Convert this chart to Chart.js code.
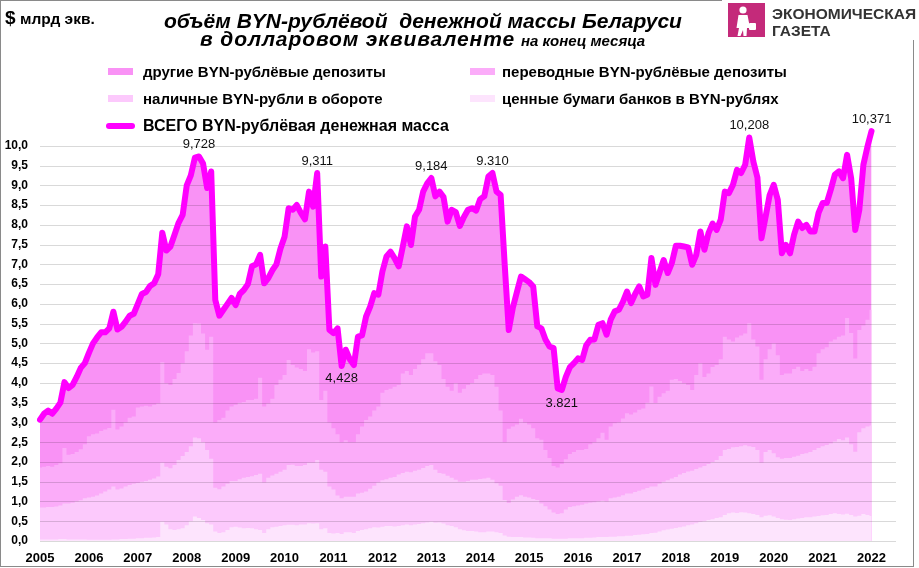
<!DOCTYPE html>
<html>
<head>
<meta charset="utf-8">
<script src="https://cdn.jsdelivr.net/npm/chart.js@4.4.0/dist/chart.umd.min.js"></script>
<style>
  html, body { margin: 0; padding: 0; background: #fff; }
  #wrap { position: relative; width: 919px; height: 568px; overflow: hidden;
          font-family: 'Liberation Sans', Arial, sans-serif; color: #000; }
  #chart { position: absolute; left: 0; top: 0; }
  .frame { position: absolute; left: 0; top: 0; width: 912px; height: 565px;
           border: 1px solid #8a8a8a; pointer-events: none; }
  .unit { position: absolute; left: 5px; top: 7px; font-weight: bold; white-space: nowrap; }
  .unit .d { font-size: 19px; }
  .unit .t { font-size: 15.5px; }
  .t1, .t2 { position: absolute; font-style: italic; font-weight: bold; font-size: 21px;
             line-height: 21px; white-space: pre; }
  .t1 { left: 164px; top: 10px; }
  .t2 { left: 200px; top: 28px; }
  .t2 .big { letter-spacing: 0.9px; }
  .t2 small { font-size: 15px; }
  .logo { position: absolute; left: 722px; top: 0; width: 197px; height: 40px; background: #fff; }
  .logo svg { position: absolute; left: 6px; top: 3px; }
  .logo .name { position: absolute; left: 50px; top: 5px; font-weight: bold; font-size: 15.5px;
                line-height: 17px; color: #333; white-space: nowrap; }
  .lg { position: absolute; font-weight: bold; font-size: 15px; line-height: 15px; white-space: nowrap; }
  .lg.total { font-size: 16px; line-height: 16px; }
  .sw { position: absolute; width: 25px; height: 7px; }
  .swl { position: absolute; width: 29px; height: 6px; border-radius: 3px; }
</style>
</head>
<body>
<div id="wrap">
  <canvas id="chart" width="919" height="568"></canvas>
  <div class="frame"></div>
  <div class="unit"><span class="d">$</span> <span class="t">млрд экв.</span></div>
  <div class="t1">объём BYN-рублёвой  денежной массы Беларуси</div>
  <div class="t2"><span class="big">в долларовом эквиваленте</span> <small>на конец месяца</small></div>
  <div class="logo">
    <svg width="37" height="34" viewBox="0 0 37 34">
      <rect width="37" height="34" fill="#c42a7a"/>
      <circle cx="15" cy="7" r="3.6" fill="#fff"/>
      <path d="M10.5 12 L19.5 12 L22 25 L19 25 L18.5 33 L15.5 33 L15 27 L12.5 33 L9.5 33 L11 25 L8.5 25 Z" fill="#fff"/>
      <rect x="21" y="20" width="7" height="7" rx="1" fill="#fff"/>
    </svg>
    <div class="name">ЭКОНОМИЧЕСКАЯ<br>ГАЗЕТА</div>
  </div>
  <div id="legend"></div>
</div>
<script>
// подписи оси X: годы, точки помесячно (янв 2005 .. янв 2022)
const years = ['2005', '2006', '2007', '2008', '2009', '2010', '2011', '2012', '2013',
  '2014', '2015', '2016', '2017', '2018', '2019', '2020', '2021', '2022'];
const monthNums = ['01', '02', '03', '04', '05', '06', '07', '08', '09', '10', '11', '12'];

const seriesNames = ['другие BYN-рублёвые депозиты', 'переводные BYN-рублёвые депозиты',
  'наличные BYN-рубли в обороте', 'ценные бумаги банков в BYN-рублях',
  'ВСЕГО BYN-рублёвая денежная масса'];

// ВСЕГО, млрд $
const total = [
  3.07, 3.22, 3.3, 3.22, 3.35, 3.5, 4.02, 3.87, 3.95, 4.15,
  4.38, 4.5, 4.76, 5.0, 5.15, 5.28, 5.28, 5.38, 5.8, 5.35,
  5.42, 5.55, 5.7, 5.75, 6.0, 6.25, 6.3, 6.45, 6.52, 6.75,
  7.8, 7.35, 7.45, 7.75, 8.05, 8.25, 9.0, 9.25, 9.7, 9.728,
  9.55, 8.93, 9.35, 6.1, 5.7, 5.85, 6.0, 6.15, 5.97, 6.25,
  6.35, 6.5, 6.95, 7.0, 7.24, 6.52, 6.65, 6.85, 7.0, 7.4,
  7.7, 8.42, 8.38, 8.5, 8.3, 8.14, 8.84, 8.46, 9.311, 6.69,
  7.45, 5.34, 5.26, 5.38, 4.43, 4.84, 4.6, 4.45, 5.17, 5.2,
  5.68, 5.93, 6.27, 6.23, 6.82, 7.2, 7.32, 7.15, 6.95, 7.45,
  7.96, 7.49, 8.21, 8.38, 8.84, 9.05, 9.184, 8.72, 8.84, 8.7,
  8.08, 8.38, 8.32, 7.97, 8.2, 8.38, 8.42, 8.36, 8.65, 8.72,
  9.22, 9.31, 8.84, 8.76, 7.0, 5.34, 5.9, 6.3, 6.69, 6.62,
  6.55, 6.44, 5.43, 5.38, 5.1, 4.92, 4.88, 3.86, 3.821, 4.15,
  4.4, 4.5, 4.62, 4.58, 4.95, 5.09, 5.1, 5.47, 5.51, 5.22,
  5.6, 5.81, 5.85, 6.05, 6.31, 6.02, 6.25, 6.44, 6.19, 6.23,
  7.16, 6.48, 6.8, 7.11, 6.78, 7.03, 7.47, 7.47, 7.45, 7.43,
  6.99, 7.24, 7.83, 7.37, 7.79, 8.03, 7.87, 8.13, 8.84, 8.8,
  9.01, 9.39, 9.31, 9.52, 10.208, 9.6, 9.2, 7.66, 8.2, 8.75,
  9.01, 8.63, 7.28, 7.49, 7.28, 7.75, 8.08, 7.92, 8.0, 7.83,
  7.83, 8.3, 8.55, 8.55, 8.89, 9.27, 9.35, 9.18, 9.77, 9.18,
  7.87, 8.38, 9.52, 9.98, 10.371
];

// верхняя граница слоя "переводные" (нарастающим итогом снизу)
const transferTop = [
  1.86, 1.88, 1.9, 1.88, 1.92, 1.97, 2.35, 2.18, 2.2, 2.25,
  2.32, 2.45, 2.65, 2.7, 2.72, 2.78, 2.82, 2.86, 3.32, 2.82,
  2.9, 3.0, 3.12, 3.15, 3.38, 3.4, 3.42, 3.4, 3.45, 3.48,
  4.52, 3.99, 3.95, 4.1, 4.25, 4.5, 4.8, 5.2, 5.51, 5.5,
  5.25, 4.84, 5.17, 3.0, 3.06, 3.12, 3.3, 3.4, 3.45, 3.5,
  3.52, 3.57, 3.57, 3.6, 4.13, 3.4, 3.48, 3.6, 3.95, 4.08,
  4.2, 4.58, 4.45, 4.39, 4.35, 4.3, 4.85, 4.77, 4.8, 3.57,
  3.8, 3.0, 2.85, 2.7, 2.5, 2.55, 2.5, 2.5, 2.7, 2.9,
  3.06, 3.15, 3.3, 3.4, 3.75, 3.82, 3.85, 3.9, 3.95, 4.24,
  4.3, 4.2, 4.35, 4.46, 4.6, 4.75, 4.75, 4.55, 4.45, 4.1,
  3.9, 3.8, 3.99, 3.75, 3.85, 3.95, 4.0, 4.1, 4.2, 4.24,
  4.24, 4.2, 3.9, 3.3, 2.5, 2.84, 2.9, 2.95, 3.09, 3.0,
  2.95, 2.85, 2.6, 2.56, 2.3, 2.1, 1.9, 1.86, 1.95, 2.07,
  2.2, 2.25, 2.3, 2.3, 2.33, 2.45, 2.5, 2.6, 2.74, 2.56,
  2.9, 2.98, 3.0, 3.1, 3.23, 3.2, 3.25, 3.32, 3.35, 3.5,
  3.91, 3.49, 3.65, 3.74, 3.8, 4.08, 4.1, 4.05, 3.99, 3.95,
  3.82, 4.2, 4.5, 4.15, 4.24, 4.4, 4.45, 4.6, 5.17, 5.1,
  5.05, 5.15, 5.2, 5.25, 5.51, 5.1, 4.92, 4.08, 4.6, 4.85,
  5.0, 4.7, 4.2, 4.24, 4.24, 4.35, 4.41, 4.3, 4.35, 4.3,
  4.41, 4.75, 4.85, 4.9, 5.05, 5.1, 5.17, 5.2, 5.64, 5.26,
  4.62, 5.34, 5.45, 5.6, 5.85
];

// верхняя граница слоя "наличные"
const cashTop = [
  0.85, 0.85, 0.86, 0.86, 0.87, 0.9, 0.95, 0.95, 0.97, 1.0,
  1.03, 1.08, 1.1, 1.12, 1.15, 1.2, 1.25, 1.3, 1.38, 1.3,
  1.33, 1.38, 1.42, 1.45, 1.47, 1.5, 1.52, 1.55, 1.58, 1.63,
  1.98, 1.88, 1.84, 1.92, 2.05, 2.15, 2.25, 2.4, 2.62, 2.6,
  2.5, 2.3, 2.08, 1.35, 1.31, 1.38, 1.45, 1.52, 1.52, 1.56,
  1.6, 1.62, 1.64, 1.67, 1.7, 1.48, 1.6, 1.66, 1.7, 1.75,
  1.8, 1.92, 1.93, 1.9, 1.9, 1.92, 1.98, 1.98, 2.05, 1.8,
  1.75, 1.38, 1.3, 1.15, 1.08, 1.12, 1.12, 1.12, 1.2, 1.22,
  1.25, 1.32, 1.4, 1.48, 1.54, 1.56, 1.6, 1.62, 1.68, 1.72,
  1.75, 1.74, 1.78, 1.8, 1.85, 1.9, 1.92, 1.8, 1.72, 1.7,
  1.65, 1.6, 1.55, 1.5, 1.5, 1.52, 1.55, 1.55, 1.57, 1.58,
  1.6, 1.55, 1.46, 1.4, 1.04, 0.96, 1.05, 1.12, 1.16, 1.12,
  1.1, 1.06, 1.04, 0.95, 0.88, 0.8, 0.72, 0.68, 0.7, 0.8,
  0.86, 0.88, 0.9, 0.92, 0.95, 0.97, 0.98, 1.0, 1.02, 1.0,
  1.08, 1.1, 1.12, 1.16, 1.2, 1.2, 1.24, 1.27, 1.3, 1.34,
  1.38, 1.38, 1.45, 1.5, 1.54, 1.58, 1.62, 1.68, 1.72, 1.76,
  1.78, 1.82, 1.86, 1.9, 1.95, 2.0, 2.05, 2.15, 2.3, 2.33,
  2.37, 2.38, 2.4, 2.42, 2.4, 2.38, 2.3, 1.98, 2.25, 2.3,
  2.22, 2.12, 2.08, 2.1, 2.1, 2.13, 2.16, 2.2, 2.22, 2.25,
  2.3, 2.35, 2.4, 2.43, 2.47, 2.52, 2.58, 2.55, 2.62, 2.45,
  2.26, 2.75, 2.85, 2.9, 2.92
];

// верхняя граница слоя "ценные бумаги"
const securitiesTop = [
  0.04, 0.04, 0.04, 0.04, 0.04, 0.05, 0.05, 0.04, 0.04, 0.04,
  0.04, 0.04, 0.03, 0.03, 0.03, 0.03, 0.03, 0.03, 0.04, 0.04,
  0.05, 0.05, 0.06, 0.06, 0.07, 0.07, 0.08, 0.08, 0.09, 0.1,
  0.49, 0.42, 0.3, 0.28, 0.3, 0.32, 0.4, 0.5, 0.62, 0.58,
  0.53, 0.45, 0.42, 0.24, 0.2, 0.22, 0.28, 0.35, 0.36, 0.34,
  0.32, 0.33, 0.32, 0.3, 0.28, 0.2, 0.3, 0.35, 0.36, 0.38,
  0.4, 0.41, 0.41, 0.4, 0.42, 0.42, 0.45, 0.44, 0.45, 0.3,
  0.32, 0.2, 0.19, 0.2, 0.18, 0.22, 0.22, 0.2, 0.25, 0.28,
  0.3, 0.32, 0.35, 0.34, 0.36, 0.38, 0.38, 0.37, 0.38, 0.4,
  0.42, 0.4, 0.42, 0.43, 0.45, 0.47, 0.49, 0.46, 0.47, 0.44,
  0.4, 0.38, 0.35, 0.3, 0.27, 0.25, 0.25, 0.24, 0.22, 0.22,
  0.24, 0.24, 0.22, 0.2, 0.14, 0.11, 0.1, 0.1, 0.1, 0.09,
  0.09, 0.08, 0.07, 0.07, 0.07, 0.07, 0.06, 0.06, 0.06, 0.06,
  0.07, 0.07, 0.07, 0.07, 0.08, 0.08, 0.09, 0.1, 0.1, 0.1,
  0.11, 0.11, 0.12, 0.12, 0.13, 0.13, 0.15, 0.16, 0.17, 0.18,
  0.2, 0.21, 0.24, 0.27, 0.29, 0.31, 0.33, 0.35, 0.37, 0.4,
  0.42, 0.45, 0.48, 0.5, 0.53, 0.55, 0.58, 0.6, 0.66, 0.7,
  0.72, 0.71, 0.73, 0.72, 0.7, 0.68, 0.66, 0.6, 0.64, 0.65,
  0.62, 0.58, 0.55, 0.54, 0.53, 0.55, 0.57, 0.58, 0.6, 0.6,
  0.62, 0.63, 0.65, 0.66, 0.68, 0.7, 0.68, 0.67, 0.69, 0.66,
  0.62, 0.64, 0.68, 0.66, 0.63
];

// подписи экстремумов
const peakIndex = [39, 68, 74, 96, 111, 128, 174, 204];
const peakText = ['9,728', '9,311', '4,428', '9,184', '9.310', '3.821', '10,208', '10,371'];
const peakBelow = [false, false, true, false, false, true, false, false];

const colors = ['#f992f5', '#fbacf9', '#fcc9fc', '#fde4fd', '#ff00ff'];

// месяцы янв 2005 .. июл 2022 (ось чуть длиннее данных)
const labels = [];
years.forEach(y => monthNums.forEach(m => labels.push(y + '-' + m)));
labels.length = 211;

const gridOverAreas = {
  id: 'gridOverAreas',
  beforeDatasetDraw(chart, args) {
    if (args.index !== 0) return;
    const { ctx, chartArea } = chart;
    const ys = chart.scales.y;
    ctx.save();
    ctx.strokeStyle = 'rgba(0,0,0,0.15)';
    ctx.lineWidth = 1;
    ys.ticks.forEach(t => {
      if (t.value > 10) return;
      const py = Math.round(ys.getPixelForValue(t.value)) + 0.5;
      ctx.beginPath();
      ctx.moveTo(chartArea.left, py);
      ctx.lineTo(chartArea.right, py);
      ctx.stroke();
    });
    ctx.restore();
  }
};

const peakLabels = {
  id: 'peakLabels',
  afterDatasetsDraw(chart) {
    const { ctx } = chart;
    const meta = chart.getDatasetMeta(0);
    ctx.save();
    ctx.font = "13px 'Liberation Sans', Arial, sans-serif";
    ctx.fillStyle = '#111';
    ctx.textAlign = 'center';
    ctx.textBaseline = 'middle';
    peakIndex.forEach((idx, k) => {
      const p = meta.data[idx];
      ctx.fillText(peakText[k], p.x, p.y + (peakBelow[k] ? 13 : -12));
    });
    ctx.restore();
  }
};

function area(label, data, color, order) {
  return {
    type: 'line', label, data, order,
    backgroundColor: color, borderColor: 'rgba(0,0,0,0)', borderWidth: 0,
    fill: 'origin', stepped: 'middle', pointRadius: 0
  };
}

Chart.defaults.font.family = "'Liberation Sans', Arial, sans-serif";
Chart.defaults.color = '#000';

new Chart(document.getElementById('chart'), {
  type: 'line',
  data: {
    labels,
    datasets: [
      {
        label: seriesNames[4], data: total, order: 0,
        borderColor: colors[4], borderWidth: 6, borderJoinStyle: 'round', borderCapStyle: 'round',
        pointRadius: 0, fill: false, tension: 0
      },
      area(seriesNames[0], total, colors[0], 4),
      area(seriesNames[1], transferTop, colors[1], 3),
      area(seriesNames[2], cashTop, colors[2], 2),
      area(seriesNames[3], securitiesTop, colors[3], 1)
    ]
  },
  options: {
    responsive: false,
    animation: false,
    layout: { padding: { top: 126, right: 23, left: 0, bottom: 0 } },
    plugins: { legend: { display: false }, tooltip: { enabled: false } },
    scales: {
      x: {
        offset: false,
        grid: { display: false, drawTicks: true, tickLength: 8 },
        border: { display: false },
        ticks: {
          autoSkip: false, maxRotation: 0, padding: 2,
          font: { size: 13, weight: 'bold' },
          callback: function (value) {
            const lab = this.getLabelForValue(value);
            return lab.endsWith('-01') ? lab.slice(0, 4) : null;
          }
        },
        afterFit: s => { s.height = 27; }
      },
      y: {
        min: 0, max: 10.5,
        grid: { display: false, drawTicks: true, tickLength: 8 },
        border: { display: false },
        ticks: {
          stepSize: 0.5, padding: 4,
          font: { size: 12, weight: 'bold' },
          callback: v => (v > 10 ? null : v.toFixed(1).replace('.', ','))
        },
        afterFit: s => { s.width = 40; }
      }
    }
  },
  plugins: [gridOverAreas, peakLabels]
});

// легенда в две колонки, как в оригинале
const legendPos = [
  { i: 0, x: 108, y: 71 }, { i: 1, x: 470, y: 71 },
  { i: 2, x: 108, y: 98 }, { i: 3, x: 470, y: 98 },
  { i: 4, x: 108, y: 126 }
];
const lg = document.getElementById('legend');
legendPos.forEach(p => {
  const sw = document.createElement('div');
  if (p.i === 4) {
    sw.className = 'swl';
    sw.style.left = (p.x - 2) + 'px';
    sw.style.top = (p.y - 3) + 'px';
  } else {
    sw.className = 'sw';
    sw.style.left = p.x + 'px';
    sw.style.top = (p.y - 3) + 'px';
  }
  sw.style.background = colors[p.i];
  lg.appendChild(sw);
  const tx = document.createElement('div');
  tx.className = p.i === 4 ? 'lg total' : 'lg';
  tx.style.left = (p.x + (p.i === 1 || p.i === 3 ? 32 : 35)) + 'px';
  tx.style.top = (p.y - (p.i === 4 ? 8 : 7)) + 'px';
  tx.textContent = seriesNames[p.i];
  lg.appendChild(tx);
});
</script>
</body>
</html>
